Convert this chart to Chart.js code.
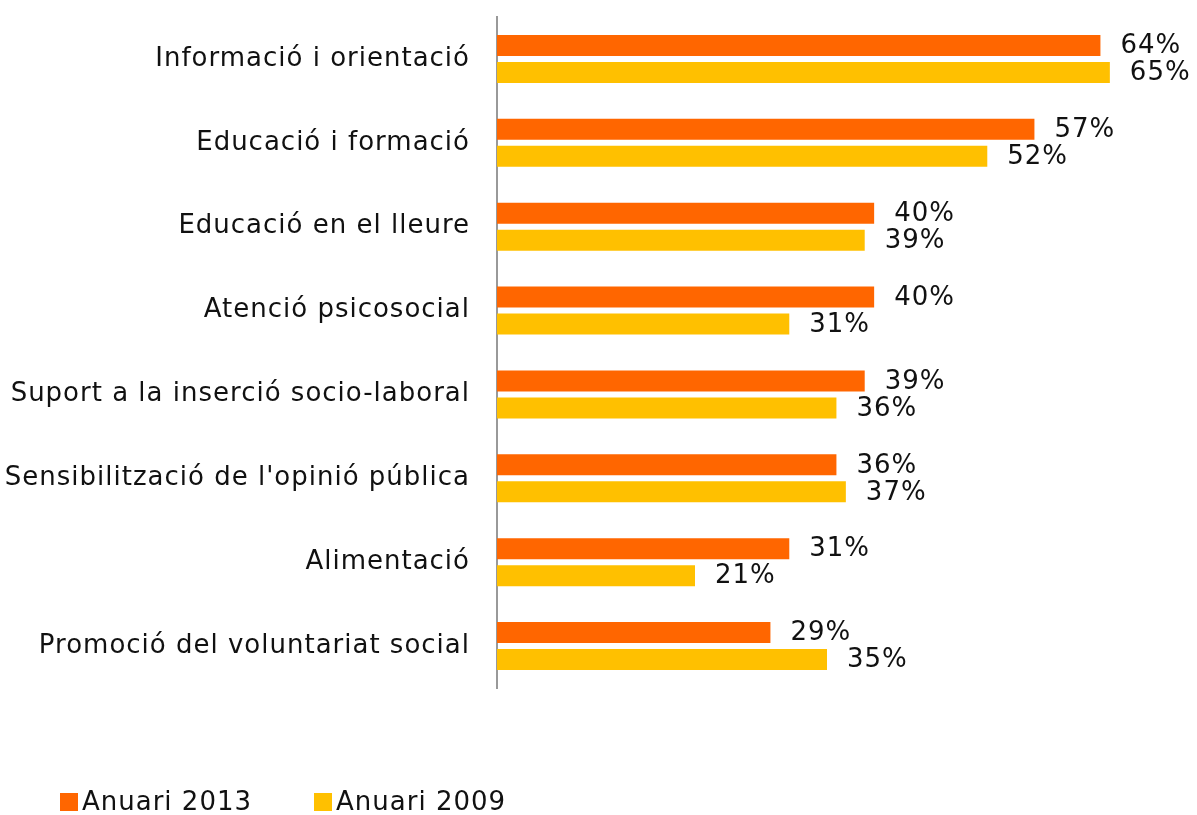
<!DOCTYPE html>
<html>
<head>
<meta charset="utf-8">
<script src="https://cdn.jsdelivr.net/npm/chart.js@4"></script>
<style>
  html, body { margin: 0; padding: 0; background: #fff; }
  #wrap { position: relative; width: 1197px; height: 815px; overflow: hidden; }
  #legend { position: absolute; left: 60px; top: 786px; font: 26px "DejaVu Sans", Verdana, sans-serif; letter-spacing: 1px; line-height: 30px; color: #111; white-space: nowrap; }
  #legend span.item { display: inline-block; margin-right: 62px; }
  #legend span.box { display: inline-block; width: 18px; height: 18px; margin-right: 4px; vertical-align: -1px; }
</style>
</head>
<body>
<div id="wrap">
  <canvas id="barChart" width="1197" height="815"></canvas>
  <div id="legend"></div>
</div>
<script>
// categories, top to bottom
const categories = [
    'Informació i orientació',
    'Educació i formació',
    'Educació en el lleure',
    'Atenció psicosocial',
    'Suport a la inserció socio-laboral',
    "Sensibilització de l'opinió pública",
    'Alimentació',
    'Promoció del voluntariat social'
];
const seriesNames = ['Anuari 2013', 'Anuari 2009'];
const values2013 = [64, 57, 40, 40, 39, 36, 31, 29];
const values2009 = [65, 52, 39, 31, 36, 37, 21, 35];
const seriesColors = ['#FF6600', '#FFC000'];

const FONT = '"DejaVu Sans", Verdana, sans-serif';

// the original text is a bit spaced out
const spacing = {
    id: 'spacing',
    beforeLayout(chart) { chart.ctx.letterSpacing = '1px'; },
    beforeDraw(chart) { chart.ctx.letterSpacing = '1px'; }
};

// draws the "64%" style labels after each bar
const valueLabels = {
    id: 'valueLabels',
    afterDatasetsDraw(chart) {
        const ctx = chart.ctx;
        ctx.save();
        ctx.font = '26px ' + FONT;
        ctx.fillStyle = '#111';
        ctx.textAlign = 'left';
        ctx.textBaseline = 'middle';
        chart.data.datasets.forEach((ds, i) => {
            chart.getDatasetMeta(i).data.forEach((bar, j) => {
                ctx.fillText(ds.data[j] + '%', bar.x + 20, bar.y + 1);
            });
        });
        ctx.restore();
    }
};

const ctx = document.getElementById('barChart').getContext('2d');
const chart = new Chart(ctx, {
    type: 'bar',
    data: {
        labels: categories,
        datasets: [
            { label: seriesNames[0], data: values2013, backgroundColor: seriesColors[0] },
            { label: seriesNames[1], data: values2009, backgroundColor: seriesColors[1] }
        ]
    },
    options: {
        indexAxis: 'y',
        responsive: false,
        animation: false,
        datasets: {
            bar: { categoryPercentage: 0.643, barPercentage: 0.78 }
        },
        layout: { padding: { top: 17, bottom: 127, left: 0, right: 40 } },
        plugins: {
            legend: { display: false },
            tooltip: { enabled: false }
        },
        scales: {
            x: {
                display: false,
                min: 0,
                max: 70
            },
            y: {
                grid: { display: false, drawTicks: false },
                border: { display: true, color: '#999999', width: 2 },
                ticks: {
                    padding: 27,
                    color: '#111',
                    font: { family: FONT, size: 26 }
                },
                afterFit(scale) {
                    scale.width = 497;
                    scale.paddingTop = 0;
                    scale.paddingBottom = 0;
                }
            }
        }
    },
    plugins: [spacing, valueLabels]
});

// legend below the plot
const legend = document.getElementById('legend');
seriesNames.forEach((name, i) => {
    const item = document.createElement('span');
    item.className = 'item';
    const box = document.createElement('span');
    box.className = 'box';
    box.style.background = seriesColors[i];
    item.appendChild(box);
    item.appendChild(document.createTextNode(name));
    legend.appendChild(item);
});
</script>
</body>
</html>
